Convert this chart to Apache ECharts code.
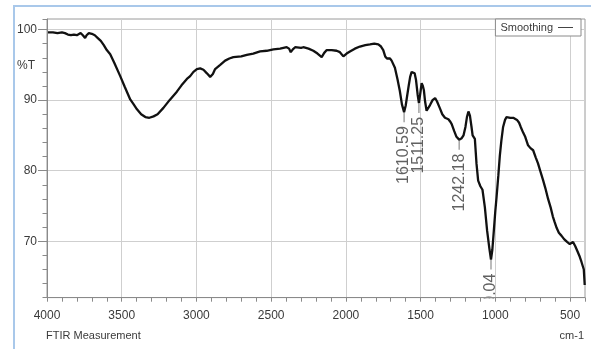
<!DOCTYPE html>
<html>
<head>
<meta charset="utf-8">
<script src="https://cdn.jsdelivr.net/npm/echarts@6/dist/echarts.min.js"></script>
<style>
  html, body { margin: 0; padding: 0; background: #fff; }
  #chart { width: 591px; height: 349px; }
</style>
</head>
<body>
<div id="chart"></div>
<script>
// FTIR spectrum: wavenumber (cm-1) vs transmittance (%T)
const wavenumbers = [
  4000, 3960, 3930, 3900, 3880, 3860, 3840, 3820, 3800, 3790, 3775, 3760, 3745, 3735, 3720, 3700,
  3680, 3660, 3640, 3620, 3600, 3577, 3550, 3510, 3480, 3443, 3420, 3398, 3370, 3342, 3315, 3287,
  3260, 3221, 3180, 3131, 3100, 3064, 3042, 3020, 2997, 2975, 2953, 2930, 2908, 2890, 2875, 2841,
  2808, 2780, 2753, 2700, 2663, 2620, 2574, 2530, 2485, 2440, 2396, 2380, 2369, 2355, 2340, 2300,
  2285, 2250, 2218, 2190, 2162, 2145, 2128, 2095, 2062, 2040, 2017, 1995, 1973, 1940, 1906, 1870,
  1839, 1810, 1783, 1765, 1750, 1737, 1725, 1717, 1705, 1694, 1672, 1655, 1639, 1625, 1610.59, 1600,
  1593, 1580, 1570, 1560, 1549, 1540, 1531, 1520, 1511.25, 1502, 1493, 1485, 1478, 1470, 1460, 1450,
  1437, 1420, 1403, 1390, 1370, 1355, 1337, 1325, 1314, 1300, 1292, 1275, 1260, 1242.18, 1225, 1213,
  1200, 1190, 1180, 1170, 1160, 1152, 1142, 1137, 1126, 1115, 1100, 1086, 1070, 1055, 1040, 1029.04,
  1020, 1010, 1000, 992, 980, 970, 960, 948, 935, 925, 914, 900, 892, 880, 870, 855,
  841, 830, 814, 800, 781, 765, 747, 730, 714, 700, 681, 665, 647, 630, 615, 603,
  590, 575, 558, 540, 520, 502, 490, 480, 465, 447, 435, 424, 413, 408, 402
];
const transmittance = [
  99.6, 99.6, 99.5, 99.6, 99.5, 99.3, 99.2, 99.3, 99.2, 99.4, 99.5, 99.2, 98.8, 99.2, 99.5, 99.4,
  99.2, 98.8, 98.4, 97.8, 97.1, 96.5, 95.3, 93.4, 91.9, 90.1, 89.4, 88.7, 88.0, 87.6, 87.5, 87.7,
  88.0, 88.9, 90.0, 91.2, 92.1, 93.0, 93.4, 94.0, 94.4, 94.5, 94.3, 93.8, 93.3, 93.7, 94.4, 95.0,
  95.6, 95.9, 96.1, 96.2, 96.4, 96.6, 96.9, 97.0, 97.2, 97.3, 97.5, 97.3, 96.8, 97.2, 97.5, 97.4,
  97.5, 97.3, 97.0, 96.6, 96.1, 96.7, 97.1, 97.1, 97.0, 96.8, 96.2, 96.6, 96.9, 97.3, 97.6, 97.8,
  97.9, 98.0, 97.9, 97.6, 97.1, 96.2, 95.9, 96.0, 95.9, 95.6, 94.6, 93.0, 91.3, 89.4, 88.3, 89.2,
  90.2, 92.0, 93.3, 94.0, 94.2, 93.8, 92.9, 90.8, 89.6, 91.0, 92.4, 92.0, 91.4, 89.8, 88.5, 88.6,
  89.3, 90.0, 90.3, 89.8, 88.8, 88.0, 87.5, 87.7, 87.3, 86.9, 86.6, 85.6, 84.8, 84.4, 84.6, 85.0,
  86.2, 87.6, 88.4, 87.8, 86.3, 85.0, 84.8, 84.5, 81.0, 78.6, 77.8, 77.3, 74.8, 71.5, 69.0, 67.4,
  68.8, 71.5, 74.3, 76.2, 79.3, 82.1, 84.2, 86.2, 87.2, 87.6, 87.4, 87.5, 87.4, 87.5, 87.4, 87.2,
  86.8, 86.2, 85.4, 84.8, 83.6, 83.2, 82.9, 81.9, 81.0, 80.0, 78.7, 77.5, 76.0, 74.8, 73.5, 72.7,
  71.9, 71.2, 70.8, 70.3, 69.9, 69.6, 69.8, 69.9, 69.3, 68.4, 67.8, 67.1, 66.9, 66.0, 63.8
];
// Annotated absorption minima (cm-1)
const peakWavenumbers = [1610.59, 1511.25, 1242.18, 1029.04];
// Axis ticks and labels
const xTickValues = [4000, 3500, 3000, 2500, 2000, 1500, 1000, 500];
const yTickValues = [70, 80, 90, 100];
const seriesName = 'Smoothing';
const xUnit = 'cm-1';
const yUnit = '%T';
const footerText = 'FTIR Measurement';

const lineData = wavenumbers.map((w, i) => [w, transmittance[i]]);
const peakData = peakWavenumbers.map(w => [w, transmittance[wavenumbers.indexOf(w)]]);

const font = "'Liberation Sans', Arial, sans-serif";
const textColor = '#3a3a3a';
const X_MIN = 400, X_MAX = 4000, Y_MIN = 62, Y_MAX = 101.5;

const chart = echarts.init(document.getElementById('chart'), null, { renderer: 'canvas' });

const baseX = { type: 'value', inverse: true, min: X_MIN, max: X_MAX, position: 'bottom', gridIndex: 0 };
const baseY = { type: 'value', min: Y_MIN, max: Y_MAX, position: 'left', gridIndex: 0 };
const plainNumber = v => String(v);

chart.setOption({
  animation: false,
  backgroundColor: '#fff',
  grid: { left: 47, right: 6, top: 19, bottom: 51.3, show: true, borderColor: '#9a9a9a', borderWidth: 1 },
  legend: {
    data: [{ name: seriesName, icon: 'rect' }],
    right: 10, top: 19,
    align: 'right',
    itemWidth: 15, itemHeight: 1,
    padding: [3, 8, 3, 5],
    borderColor: '#8a8a8a', borderWidth: 1,
    backgroundColor: '#fff',
    textStyle: { fontFamily: font, fontSize: 11, color: textColor },
    itemStyle: { color: '#444' }
  },
  xAxis: [
    // axis line and 100 cm-1 ticks
    Object.assign({}, baseX, {
      interval: 100, z: 60,
      axisLine: { show: true, onZero: false, lineStyle: { color: '#8a8a8a', width: 1 } },
      axisTick: { show: true, length: 4, lineStyle: { color: '#8a8a8a' } },
      axisLabel: { show: false },
      splitLine: { show: false }
    }),
    // vertical grid lines
    Object.assign({}, baseX, {
      z: 0,
      axisLine: { show: false, onZero: false },
      axisTick: { show: false, customValues: xTickValues },
      axisLabel: { show: false },
      splitLine: { show: true, lineStyle: { color: '#cfcfcf', width: 1 } }
    }),
    // tick labels
    Object.assign({}, baseX, {
      z: 60,
      axisLine: { show: false, onZero: false },
      axisTick: { show: false },
      axisLabel: { show: true, customValues: xTickValues, formatter: plainNumber, margin: 12, fontFamily: font, fontSize: 12, color: textColor },
      splitLine: { show: false }
    })
  ],
  yAxis: [
    // axis line and minor ticks every 2 %T
    Object.assign({}, baseY, {
      interval: 2, z: 60,
      axisLine: { show: true, onZero: false, lineStyle: { color: '#8a8a8a', width: 1 } },
      axisTick: { show: true, length: 4.5, lineStyle: { color: '#8a8a8a' } },
      axisLabel: { show: false },
      splitLine: { show: false }
    }),
    // major ticks, labels and horizontal grid lines
    Object.assign({}, baseY, {
      z: 0,
      axisLine: { show: false, onZero: false },
      axisTick: { show: true, length: 9, customValues: yTickValues, lineStyle: { color: '#8a8a8a' } },
      axisLabel: { show: true, customValues: yTickValues, formatter: plainNumber, margin: 10, fontFamily: font, fontSize: 12, color: textColor },
      splitLine: { show: true, lineStyle: { color: '#cfcfcf', width: 1 } }
    })
  ],
  series: [
    {
      name: seriesName,
      type: 'line',
      xAxisIndex: 0, yAxisIndex: 0,
      data: lineData,
      showSymbol: false,
      smooth: false,
      z: 3,
      lineStyle: { color: '#111', width: 2.3 },
      itemStyle: { color: '#111' }
    },
    {
      name: 'peaks',
      type: 'scatter',
      xAxisIndex: 0, yAxisIndex: 0,
      data: peakData,
      symbolSize: 1,
      itemStyle: { color: 'transparent' },
      silent: true,
      z: 4,
      label: {
        show: true,
        position: 'inside',
        rotate: 90,
        align: 'right',
        verticalAlign: 'middle',
        formatter: p => '{v|' + p.value[0].toFixed(2) + '}{d|}',
        rich: {
          v: { fontFamily: font, fontSize: 16, color: textColor, padding: [0, 4, 0, 0] },
          d: { width: 10, height: 1, backgroundColor: '#555', verticalAlign: 'middle' }
        }
      }
    }
  ],
  graphic: [
    // outer frame, top and left edges
    { type: 'polyline', z: -1, silent: true,
      shape: { points: [[14, 360], [14, 6], [600, 6]] },
      style: { fill: 'none', stroke: '#a9c8ea', lineWidth: 2 } },
    // keeps annotations inside the plot area
    { type: 'rect', z: 50, silent: true,
      shape: { x: 47, y: 298.5, width: 540, height: 52 },
      style: { fill: '#fff' } },
    { type: 'text', z: 70, silent: true, x: 17, y: 66,
      style: { text: yUnit, fontFamily: font, fontSize: 12, fill: textColor, verticalAlign: 'middle' } },
    { type: 'text', z: 70, silent: true, x: 46, y: 336,
      style: { text: footerText, fontFamily: font, fontSize: 11, fill: textColor, verticalAlign: 'middle' } },
    { type: 'text', z: 70, silent: true, x: 584, y: 336,
      style: { text: xUnit, fontFamily: font, fontSize: 11, fill: textColor, align: 'right', verticalAlign: 'middle' } }
  ]
});
</script>
</body>
</html>
